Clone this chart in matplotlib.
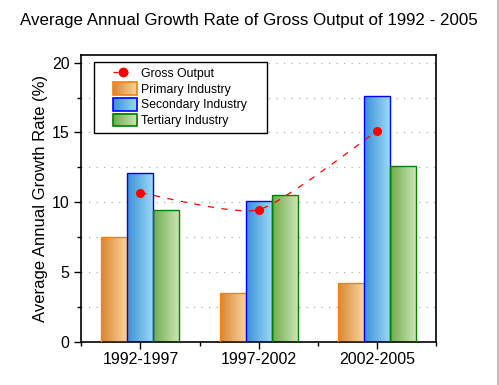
import matplotlib
matplotlib.use("Agg")
import matplotlib.pyplot as plt
import numpy as np
from matplotlib.colors import LinearSegmentedColormap
from matplotlib.image import BboxImage
from matplotlib.legend_handler import HandlerBase
from matplotlib.lines import Line2D
from matplotlib.patches import PathPatch, Rectangle
from matplotlib.path import Path
from matplotlib.transforms import Bbox, TransformedBbox

plt.rcParams["font.family"] = ["Liberation Sans", "DejaVu Sans"]

periods = ["1992-1997", "1997-2002", "2002-2005"]
primary = [7.5, 3.5, 4.2]
secondary = [12.07, 10.07, 17.59]
tertiary = [9.43, 10.5, 12.58]
gross = [10.69, 9.47, 15.1]

# (left colour, right colour, edge colour)
STYLES = {
    "Primary Industry": ("#DA8632", "#FCD6A0", "#FF8000"),
    "Secondary Industry": ("#3990D6", "#9EDCF8", "#0000FF"),
    "Tertiary Industry": ("#6FAC4C", "#CFE7B8", "#008000"),
}
GRAD = np.linspace(0, 1, 64).reshape(1, -1)
HANDLE_SHIFT = 9.5  # legend keys sit a bit right of the frame, like the original


def cmap_for(name):
    left, right, _ = STYLES[name]
    return LinearSegmentedColormap.from_list(name, [left, right])


class GradientHandler(HandlerBase):
    def create_artists(self, legend, orig, xdescent, ydescent, width, height, fontsize, trans):
        name = orig.get_label()
        x0 = -xdescent + HANDLE_SHIFT
        y0 = -ydescent - 1.5
        box = Bbox.from_bounds(x0, y0, width - HANDLE_SHIFT, height + 3)
        img = BboxImage(TransformedBbox(box, trans), cmap=cmap_for(name), interpolation="bilinear")
        img.set_data(GRAD)
        rect = Rectangle((x0, y0), width - HANDLE_SHIFT, height + 3, fill=False,
                         edgecolor=STYLES[name][2], linewidth=1.2, transform=trans)
        return [img, rect]


class DashMarkerHandler(HandlerBase):
    def create_artists(self, legend, orig, xdescent, ydescent, width, height, fontsize, trans):
        x0 = -xdescent + HANDLE_SHIFT
        x1 = -xdescent + width - 3
        yc = -ydescent + height / 2
        line = Line2D([x0, x1], [yc, yc], color="red", linewidth=0.9,
                      linestyle=(0, (4, 4)), transform=trans)
        dot = Line2D([(x0 + x1) / 2], [yc], color="red", marker="o", markersize=6,
                     linestyle="none", transform=trans)
        return [line, dot]


fig = plt.figure(figsize=(4.99, 3.85), dpi=100)
ax = fig.add_axes([0.163, 0.1117, 0.711, 0.7455])

x = np.arange(1, len(periods) + 1)
w = 0.22
bar_handles = []
for off, (name, vals) in zip([-w, 0, w], [("Primary Industry", primary),
                                          ("Secondary Industry", secondary),
                                          ("Tertiary Industry", tertiary)]):
    bars = ax.bar(x + off, vals, width=w, facecolor="none", edgecolor=STYLES[name][2],
                  linewidth=1.0, label=name, zorder=3)
    for b in bars:
        x0, y0 = b.get_x(), b.get_y()
        ax.imshow(GRAD, cmap=cmap_for(name), aspect="auto", interpolation="bilinear",
                  extent=[x0, x0 + b.get_width(), y0, y0 + b.get_height()], zorder=2)
    bar_handles.append(Rectangle((0, 0), 1, 1, label=name))

# smooth dashed connector through the gross output points (low-tension Catmull-Rom)
pts = np.column_stack([x, gross]).astype(float)
ext = np.vstack([pts[0], pts, pts[-1]])
verts = [pts[0]]
codes = [Path.MOVETO]
for i in range(1, len(ext) - 2):
    p0, p1, p2, p3 = ext[i - 1], ext[i], ext[i + 1], ext[i + 2]
    verts += [p1 + (p2 - p0) / 10, p2 - (p3 - p1) / 10, p2]
    codes += [Path.CURVE4] * 3
ax.add_patch(PathPatch(Path(verts, codes), fill=False, edgecolor="red", linewidth=0.9,
                       linestyle=(0, (5, 6)), zorder=4))
ax.plot(x, gross, "o", color="red", markersize=5.5, zorder=5)
gross_handle = Line2D([], [], color="red", label="Gross Output")

ax.set_xlim(0.5, 3.5)
ax.set_ylim(0, 20.55)
ax.set_xticks(x, periods)
ax.set_xticks([0.5, 1.5, 2.5, 3.5], minor=True)
ax.set_yticks([0, 5, 10, 15, 20])
ax.set_yticks([2.5, 7.5, 12.5, 17.5], minor=True)
ax.tick_params(axis="both", which="major", direction="out", length=5, width=1, labelsize=11.5, colors="black")
ax.tick_params(axis="both", which="minor", direction="out", length=3, width=1)
ax.tick_params(axis="x", which="major", pad=2)
for sp in ax.spines.values():
    sp.set_linewidth(1.2)

ax.grid(axis="y", which="both", color="#B0B0B0", linestyle=(0, (1, 5)), linewidth=0.9)
ax.set_axisbelow(True)

ax.set_ylabel("Average Annual Growth Rate (%)", fontsize=12, labelpad=3)
fig.text(0.04, 0.935, "Average Annual Growth Rate of Gross Output of 1992 - 2005", fontsize=12.2)

leg = ax.legend([gross_handle] + bar_handles,
                ["Gross Output", "Primary Industry", "Secondary Industry", "Tertiary Industry"],
                handler_map={Rectangle: GradientHandler(), Line2D: DashMarkerHandler()},
                loc="upper left", bbox_to_anchor=(0.0367, 0.975, 0.487, 0), mode="expand",
                fontsize=8.8, fancybox=False, framealpha=1, edgecolor="black",
                handlelength=3.07, handletextpad=0.33, labelspacing=0.32, borderpad=0.45,
                borderaxespad=0)
leg.get_frame().set_linewidth(1.0)

fig.add_artist(Line2D([0.997, 0.997], [0, 1], color="#C0C0C0", linewidth=1.5, transform=fig.transFigure))

fig.savefig("out.png", dpi=100)
